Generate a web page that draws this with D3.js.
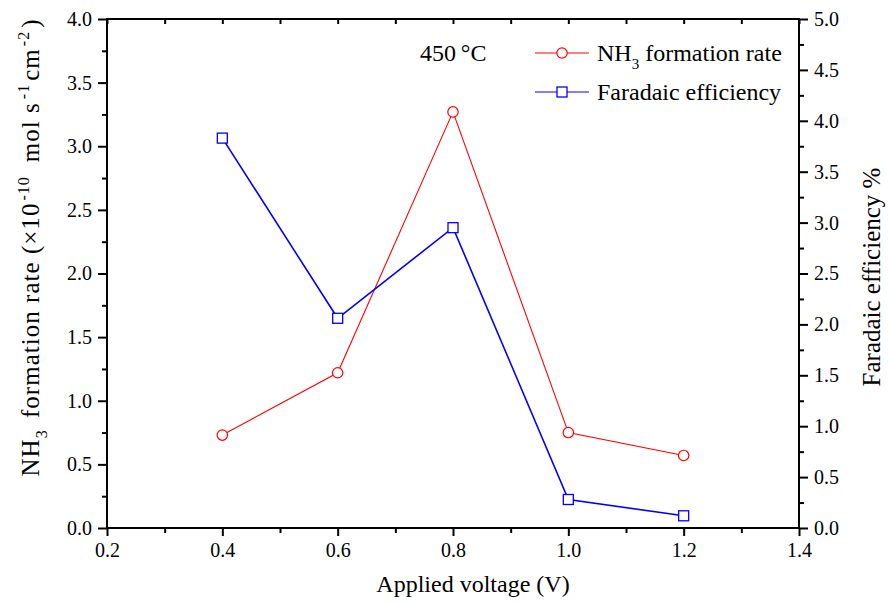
<!DOCTYPE html>
<html><head><meta charset="utf-8">
<script src="https://cdn.jsdelivr.net/npm/d3@7"></script>
<style>body{margin:0;background:#fff}</style>
</head><body>
<svg id="c" width="889" height="603" font-family="'Liberation Serif', 'Times New Roman', 'DejaVu Serif', serif"></svg>
<script>
const voltages = [0.4, 0.6, 0.8, 1.0, 1.2];
const nh3Rate = [0.73, 1.22, 3.27, 0.75, 0.57];
const faradaic = [3.83, 2.06, 2.95, 0.28, 0.12];
const xTicks = [0.2, 0.4, 0.6, 0.8, 1.0, 1.2, 1.4];
const yLeftTicks = [0, 0.5, 1, 1.5, 2, 2.5, 3, 3.5, 4];
const yRightTicks = [0, 0.5, 1, 1.5, 2, 2.5, 3, 3.5, 4, 4.5, 5];

const FONT = "'Liberation Serif', 'Times New Roman', 'DejaVu Serif', serif";
const svg = d3.select("#c");
const L = 107, R = 799, T = 19, B = 528;
const x = d3.scaleLinear().domain([0.2, 1.4]).range([L, R]);
const yL = d3.scaleLinear().domain([0, 4]).range([B, T]);
const yR = d3.scaleLinear().domain([0, 5]).range([B, T]);

function styleAxis(g){
  g.attr("font-family", FONT).attr("font-size", 20);
  g.select(".domain").remove();
  g.selectAll("line").attr("stroke","#000").attr("stroke-width",2);
  g.selectAll("text").attr("fill","#000");
}
const minor = (a,b,s)=>d3.range(a,b+1e-9,s);

svg.append("g").attr("transform",`translate(0,${B})`)
  .call(d3.axisBottom(x).tickValues(xTicks).tickFormat(d3.format(".1f")).tickSize(8).tickPadding(7))
  .call(styleAxis);
svg.append("g").attr("transform",`translate(0,${B})`)
  .call(d3.axisBottom(x).tickValues(minor(0.3,1.3,0.2)).tickFormat("").tickSize(5)).call(styleAxis);
svg.append("g").attr("transform",`translate(0,${T})`)
  .call(d3.axisBottom(x).tickValues(xTicks).tickFormat("").tickSize(5)).call(styleAxis);
svg.append("g").attr("transform",`translate(0,${T})`)
  .call(d3.axisBottom(x).tickValues(minor(0.3,1.3,0.2)).tickFormat("").tickSize(5)).call(styleAxis);
svg.append("g").attr("transform",`translate(${L},0)`)
  .call(d3.axisLeft(yL).tickValues(yLeftTicks).tickFormat(d3.format(".1f")).tickSize(9).tickPadding(6))
  .call(styleAxis);
svg.append("g").attr("transform",`translate(${L},0)`)
  .call(d3.axisLeft(yL).tickValues(minor(0.25,3.75,0.5)).tickFormat("").tickSize(5)).call(styleAxis);
svg.append("g").attr("transform",`translate(${R},0)`)
  .call(d3.axisRight(yR).tickValues(yRightTicks).tickFormat(d3.format(".1f")).tickSize(9).tickPadding(6))
  .call(styleAxis);
svg.append("g").attr("transform",`translate(${R},0)`)
  .call(d3.axisRight(yR).tickValues(minor(0.25,4.75,0.5)).tickFormat("").tickSize(5)).call(styleAxis);

svg.append("rect").attr("x",L).attr("y",T).attr("width",R-L).attr("height",B-T)
  .attr("fill","none").attr("stroke","#000").attr("stroke-width",2);

const red = "#ff0000", blue = "#0000ff";
const dRed = voltages.map((v,i)=>[v,nh3Rate[i]]);
const dBlue = voltages.map((v,i)=>[v,faradaic[i]]);
svg.append("path").datum(dRed).attr("fill","none").attr("stroke",red).attr("stroke-width",1.1)
  .attr("d",d3.line().x(d=>x(d[0])).y(d=>yL(d[1])));
svg.append("path").datum(dBlue).attr("fill","none").attr("stroke",blue).attr("stroke-width",1.6)
  .attr("d",d3.line().x(d=>x(d[0])).y(d=>yR(d[1])));
svg.selectAll(".cr").data(dRed).enter().append("circle")
  .attr("cx",d=>x(d[0])).attr("cy",d=>yL(d[1])).attr("r",5.2)
  .attr("fill","#fff").attr("stroke",red).attr("stroke-width",1.2);
svg.selectAll(".sq").data(dBlue).enter().append("rect")
  .attr("x",d=>x(d[0])-5).attr("y",d=>yR(d[1])-5).attr("width",10).attr("height",10)
  .attr("fill","#fff").attr("stroke",blue).attr("stroke-width",1.3);

const lg = svg.append("g");
const rows = [{y:53,c:red,t:"circle"},{y:92,c:blue,t:"square"}];
rows.forEach(r=>{
  lg.append("line").attr("x1",535).attr("x2",589).attr("y1",r.y).attr("y2",r.y).attr("stroke",r.c).attr("stroke-width",1.2);
  if(r.t==="circle") lg.append("circle").attr("cx",562).attr("cy",r.y).attr("r",5.2).attr("fill","#fff").attr("stroke",r.c).attr("stroke-width",1.2);
  else lg.append("rect").attr("x",557).attr("y",r.y-5).attr("width",10).attr("height",10).attr("fill","#fff").attr("stroke",r.c).attr("stroke-width",1.3);
});
const t1 = lg.append("text").attr("x",597).attr("y",61).attr("font-size",24);
t1.append("tspan").text("NH");
t1.append("tspan").attr("dy",8).attr("font-size",15).text("3");
t1.append("tspan").attr("dy",-8).text(" formation rate");
lg.append("text").attr("x",597).attr("y",100).attr("font-size",24).text("Faradaic efficiency");
svg.append("text").attr("x",420).attr("y",61).attr("font-size",24).text("450\u2009\u00B0C");

svg.append("text").attr("x",473).attr("y",592).attr("text-anchor","middle").attr("font-size",24).text("Applied voltage (V)");
const yt = svg.append("text").attr("transform","translate(39,248) rotate(-90)").attr("text-anchor","middle").attr("font-size",25);
yt.append("tspan").text("NH");
yt.append("tspan").attr("dy",8).attr("font-size",16).text("3");
yt.append("tspan").attr("dy",-8).attr("dx",4).text(" formation rate (\u00D710");
yt.append("tspan").attr("dy",-10).attr("dx",2).attr("font-size",16).text("-10");
yt.append("tspan").attr("dy",10).attr("dx",14).text("mol s");
yt.append("tspan").attr("dy",-10).attr("dx",3).attr("font-size",16).text("-1");
yt.append("tspan").attr("dy",10).attr("dx",3).text("cm");
yt.append("tspan").attr("dy",-10).attr("dx",2).attr("font-size",16).text("-2");
yt.append("tspan").attr("dy",10).attr("dx",3).text(")");
yt.attr("textLength",457).attr("lengthAdjust","spacing");
svg.append("text").attr("transform","translate(880,277) rotate(-90)").attr("text-anchor","middle").attr("font-size",25).text("Faradaic efficiency %");
</script>
</body></html>
